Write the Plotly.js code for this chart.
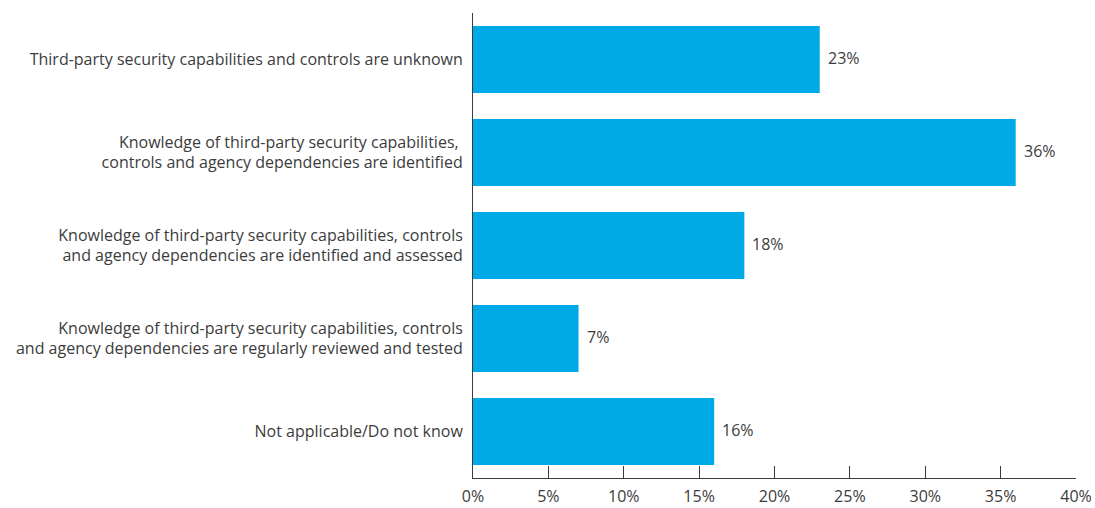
<!DOCTYPE html>
<html>
<head>
<meta charset="utf-8">
<script src="https://cdn.plot.ly/plotly-3.0.1.min.js"></script>
<style>html,body{margin:0;padding:0;background:#fff;}#chart{width:1095px;height:508px;}</style>
</head>
<body>
<div id="chart"></div>
<script>
const categories = [
  "Third-party security capabilities and controls are unknown",
  "Knowledge of third-party security capabilities, <br>controls and agency dependencies are identified",
  "Knowledge of third-party security capabilities, controls<br>and agency dependencies are identified and assessed",
  "Knowledge of third-party security capabilities, controls<br>and agency dependencies are regularly reviewed and tested",
  "Not applicable/Do not know"
];
const values = [23, 36, 18, 7, 16];
const tickVals = [0, 5, 10, 15, 20, 25, 30, 35, 40];
const tickText = ["0%", "5%", "10%", "15%", "20%", "25%", "30%", "35%", "40%"];

const font = {family: "Open Sans, sans-serif", size: 16, color: "#3c3c3c"};

const annotations = values.map((v, i) => ({
  x: v, y: categories[i], xref: "x", yref: "y",
  text: v + "%", showarrow: false, xanchor: "left", yanchor: "middle",
  xshift: 6, yshift: 2,
  font: {family: font.family, size: 16, color: "#3c3c3c"}
}));

Plotly.newPlot("chart", [{
  type: "bar",
  orientation: "h",
  y: categories,
  x: values,
  marker: {color: "#00aae7"},
  hoverinfo: "none"
}], {
  width: 1095,
  height: 508,
  margin: {l: 473, r: 19, t: 13, b: 30},
  paper_bgcolor: "#fff",
  plot_bgcolor: "#fff",
  font: font,
  bargap: 0.28,
  showlegend: false,
  annotations: annotations,
  xaxis: {
    range: [0, 40],
    tickvals: tickVals,
    ticktext: tickText,
    ticks: "inside",
    ticklen: 12,
    tickcolor: "#3c3c3c",
    showline: true,
    linecolor: "#3c3c3c",
    linewidth: 1,
    showgrid: false,
    zeroline: false,
    fixedrange: true,
    ticklabelstandoff: 4
  },
  yaxis: {
    categoryorder: "array",
    categoryarray: categories.slice().reverse(),
    autorange: false,
    range: [-0.5, 4.5],
    showline: true,
    linecolor: "#3c3c3c",
    linewidth: 1,
    ticks: "",
    showgrid: false,
    zeroline: false,
    ticklabelstandoff: 6,
    fixedrange: true
  }
}, {displayModeBar: false, staticPlot: true});
</script>
</body>
</html>
